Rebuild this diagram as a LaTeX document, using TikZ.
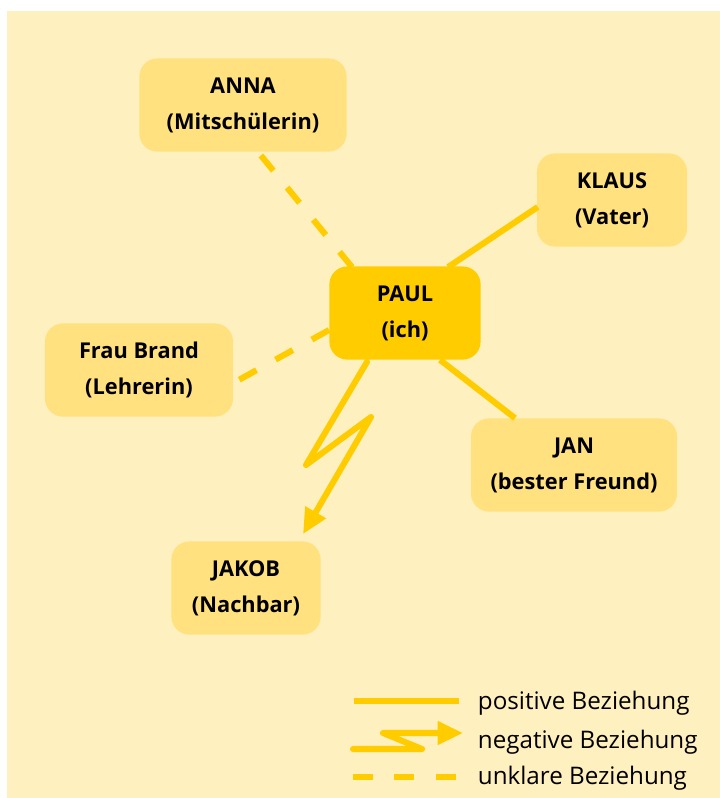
\documentclass[tikz,border=0pt]{standalone}
\usepackage{fontspec}
\setmainfont{Open Sans}
\usepackage{xcolor}
\definecolor{hintergrund}{HTML}{FFF0C0}
\definecolor{kasten}{HTML}{FFE17F}
\definecolor{gelb}{HTML}{FFCC00}
\usepackage{tikz}
\usetikzlibrary{arrows.meta}

\tikzset{
    person/.style={fill=kasten, rounded corners=0.45cm, minimum height=2.33cm, align=center,
        font=\fontsize{15.5}{25.5}\selectfont\bfseries},
    ich/.style={person, fill=gelb},
    positiv/.style={draw=gelb, line width=4.3pt},
    unklar/.style={positiv, dash pattern=on 14pt off 15.5pt},
    negativ/.style={positiv, line join=round, line cap=round, -{Triangle[length=18pt, width=16pt]}},
    legende/.style={anchor=west, font=\fontsize{17.2}{20}\selectfont}
}

\begin{document}
\begin{tikzpicture}[x=0.025cm, y=-0.025cm]
                        \useasboundingbox (0, 0) rectangle (720, 798);
                        \fill[hintergrund] (7, 11) rectangle (720, 798);

                        \node (anna) at (243, 105) [person, minimum width=5.18cm] {ANNA\\(Mitschülerin)};
                        \node (klaus) at (612, 200) [person, minimum width=3.75cm] {KLAUS\\(Vater)};
                        \node (paul) at (405, 313) [ich, minimum width=3.78cm] {PAUL\\(ich)};
                        \node (brand) at (139, 370) [person, minimum width=4.7cm] {Frau Brand\\(Lehrerin)};
                        \node (jan) at (574, 465) [person, minimum width=5.15cm] {JAN\\(bester Freund)};
                        \node (jakob) at (246, 588) [person, minimum width=3.73cm] {JAKOB\\(Nachbar)};

                        \coordinate (blitz1) at (306, 465);
                        \coordinate (blitz2) at (371, 417);
                        \coordinate (spitze) at ([shift={(57, -7)}]jakob.north);

                        \draw[positiv] ([shift={(43, 1)}]paul.north) -- ([shift={(1, 7)}]klaus.west);
                        \draw[positiv] ([shift={(35, 0)}]paul.south) -- ([shift={(-59, 0)}]jan.north);
                        \draw[unklar] ([shift={(-53, 1)}]paul.north) -- ([shift={(15, 0)}]anna.south);
                        \draw[unklar] ([shift={(0, 17)}]paul.west) -- ([shift={(0, 13)}]brand.east);
                        \draw[negativ] ([shift={(-38, 2)}]paul.south) -- (blitz1) -- (blitz2) -- (spitze);

                        % Legende
                        \coordinate (p1) at (354, 701);
                        \coordinate (p2) at (459, 701);
                        \coordinate (n1) at (353, 749);
                        \coordinate (n2) at (422, 749);
                        \coordinate (n3) at (383, 733);
                        \coordinate (n4) at (463, 733);
                        \coordinate (u1) at (353, 777);
                        \coordinate (u2) at (459, 777);

                        \draw[positiv] (p1) -- (p2);
                        \draw[negativ] (n1) -- (n2) -- (n3) -- (n4);
                        \draw[unklar] (u1) -- (u2);

                        \node (lpos) at (473, 703) [legende] {positive Beziehung};
                        \node (lneg) at (473, 742) [legende] {negative Beziehung};
                        \node (lunk) at (473, 778) [legende] {unklare Beziehung};
                    \end{tikzpicture}
\end{document}
